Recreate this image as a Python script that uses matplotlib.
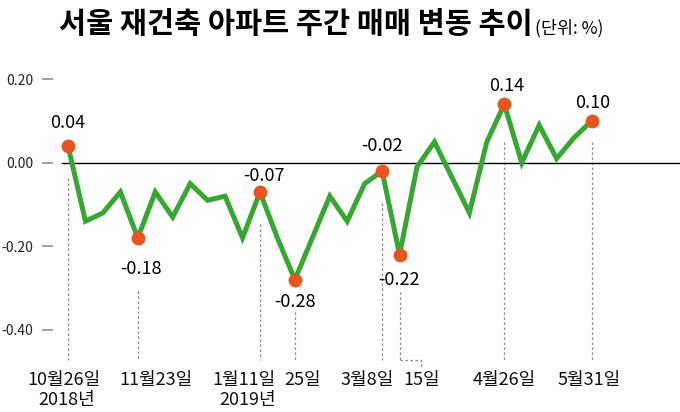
import matplotlib
matplotlib.use("Agg")
import matplotlib.pyplot as plt

plt.rcParams['font.family'] = ['Noto Sans CJK KR', 'DejaVu Sans']

# 주간 매매 변동률(%) 2018-10-26 ~ 2019-05-31, 설 연휴 주는 빠짐
values = [0.04, -0.14, -0.12, -0.07, -0.18, -0.07, -0.13, -0.05, -0.09, -0.08,
          -0.18, -0.07, -0.18, -0.28, -0.18, -0.08, -0.14, -0.05, -0.02, -0.22,
          -0.01, 0.05, -0.035, -0.12, 0.05, 0.14, 0.00, 0.09, 0.01, 0.06, 0.10]
weeks = list(range(len(values)))

# 점 찍고 값 표시하는 주
marked = [0, 4, 11, 13, 18, 19, 25, 30]
date_labels = ['10월26일', '11월23일', '1월11일', '25일', '3월8일', '15일', '4월26일', '5월31일']
year_labels = ['2018년', '2019년']

yticks = [0.20, 0.00, -0.20, -0.40]

# 위치 조정 (글자 자리, 점선 시작)
label_x = [-0.23, 5.04, 10.09, 13.47, 17.13, 20.29, 24.99, 29.86]
year_x = [-0.06, 10.29]
val_off = [(0, 23), (3, -31), (4, 16), (0, -22), (0, 25), (-1, -25), (2, 18), (1, 17.5)]
dash_top = [-0.037, -0.307, -0.147, -0.357, -0.097, -0.310, 0.050, 0.050]
dash_bot = -0.4726

green = '#36a832'
orange = '#e8561f'

fig = plt.figure(figsize=(6.8, 4.12), dpi=100)
W, H = 680, 412
ax = fig.add_axes([53 / W, (H - 372) / H, (W - 53) / W, (372 - 55) / H])
ax.set_xlim(-0.86, 35.07)
ax.set_ylim(-0.501, 0.258)
for s in ax.spines.values():
    s.set_visible(False)
ax.set_xticks([])
ax.set_yticks(yticks)
ax.set_yticklabels([f"{t:.2f}" for t in yticks])
ax.tick_params(axis='y', length=8, width=1.3, color='#9a9a9a', pad=6,
               labelsize=10, labelcolor='#222222')

ax.axhline(0, xmin=(62 - 53) / (W - 53), color='black', lw=1.0, zorder=2)

# 점선
for i, k in enumerate(marked):
    ax.plot([k, k], [dash_top[i], dash_bot], color='#8a8a8a', lw=0.9,
            ls=(0, (2, 2)), zorder=1)
# 15일 꺾인 점선
ax.plot([19, 20.23, 20.23], [dash_bot, dash_bot, -0.49], color='#8a8a8a', lw=0.9,
        ls=(0, (2, 2)), zorder=1, clip_on=False)

ax.plot(weeks, values, color=green, lw=3.6, solid_joinstyle='miter', zorder=3)
ax.plot([weeks[k] for k in marked], [values[k] for k in marked], 'o',
        color=orange, ms=10, mec='none', zorder=4)

for i, k in enumerate(marked):
    ax.annotate(f"{values[k]:.2f}", (weeks[k], values[k]), xytext=val_off[i],
                textcoords='offset pixels', ha='center', va='center',
                fontsize=13, color='black', zorder=5)

tr = ax.get_xaxis_transform()
for x, t in zip(label_x, date_labels):
    ax.text(x, (372 - 380) / 317, t, transform=tr, ha='center', va='center',
            fontsize=13, color='#111111', clip_on=False)
for x, t in zip(year_x, year_labels):
    ax.text(x, (372 - 400) / 317, t, transform=tr, ha='center', va='center',
            fontsize=13, color='#111111', clip_on=False)

fig.text(59 / W, 1 - 33 / H, '서울 재건축 아파트 주간 매매 변동 추이', fontsize=21.2,
         fontweight='heavy', va='baseline', ha='left', color='black')
fig.text(535 / W, 1 - 33 / H, '(단위: %)', fontsize=12.5, va='baseline', ha='left',
         color='black')

fig.savefig('out.png', dpi=100, facecolor='white')
